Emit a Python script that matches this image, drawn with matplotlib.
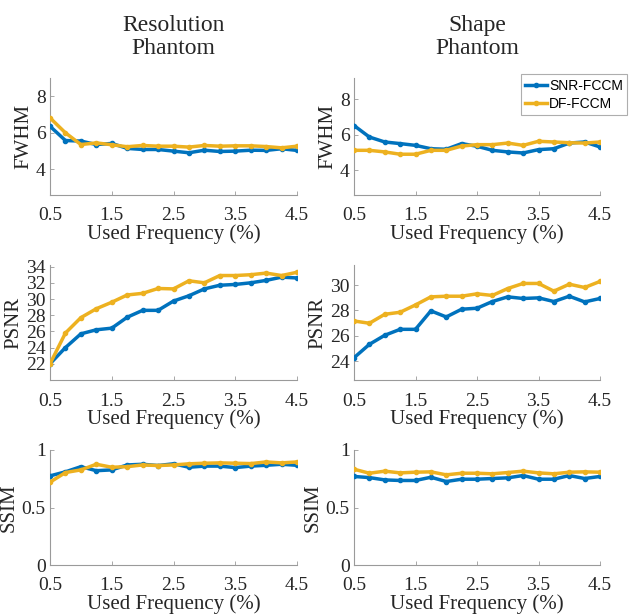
import matplotlib
matplotlib.use("Agg")
import matplotlib.pyplot as plt
import numpy as np

freq = [0.5, 0.75, 1.0, 1.25, 1.5, 1.75, 2.0, 2.25, 2.5, 2.75, 3.0, 3.25, 3.5, 3.75, 4.0, 4.25, 4.5]
xticks = [0.5, 1.5, 2.5, 3.5, 4.5]
xtick_labels = ["0.5", "1.5", "2.5", "3.5", "4.5"]
series_names = ["SNR-FCCM", "DF-FCCM"]
col_titles = ["Resolution\nPhantom", "Shape\nPhantom"]

res_fwhm_snr = [6.36, 5.58, 5.55, 5.36, 5.42, 5.15, 5.09, 5.09, 5.00, 4.91, 5.05, 4.98, 5.00, 5.05, 5.04, 5.13, 5.04]
res_fwhm_df = [6.82, 6.00, 5.36, 5.45, 5.35, 5.24, 5.31, 5.27, 5.27, 5.22, 5.31, 5.27, 5.29, 5.29, 5.25, 5.18, 5.27]
shp_fwhm_snr = [6.52, 5.87, 5.59, 5.50, 5.40, 5.21, 5.18, 5.50, 5.35, 5.12, 5.03, 4.97, 5.16, 5.21, 5.53, 5.59, 5.31]
shp_fwhm_df = [5.12, 5.12, 5.03, 4.90, 4.90, 5.12, 5.12, 5.36, 5.44, 5.44, 5.53, 5.40, 5.63, 5.59, 5.55, 5.53, 5.59]

res_psnr_snr = [22.0, 24.0, 25.7, 26.2, 26.4, 27.75, 28.6, 28.6, 29.75, 30.4, 31.25, 31.7, 31.8, 32.0, 32.3, 32.7, 32.6]
res_psnr_df = [22.0, 25.8, 27.7, 28.8, 29.6, 30.5, 30.7, 31.3, 31.25, 32.25, 32.0, 32.9, 32.9, 33.0, 33.2, 32.9, 33.3]
shp_psnr_snr = [24.26, 25.32, 26.04, 26.51, 26.51, 27.97, 27.49, 28.10, 28.18, 28.71, 29.08, 28.95, 29.0, 28.71, 29.13, 28.68, 28.95]
shp_psnr_df = [27.17, 26.99, 27.70, 27.86, 28.44, 29.08, 29.13, 29.13, 29.32, 29.19, 29.74, 30.14, 30.14, 29.53, 30.08, 29.82, 30.30]

res_ssim_snr = [0.775, 0.81, 0.855, 0.82, 0.827, 0.87, 0.876, 0.865, 0.88, 0.85, 0.86, 0.86, 0.847, 0.86, 0.867, 0.876, 0.867]
res_ssim_df = [0.72, 0.804, 0.827, 0.876, 0.85, 0.855, 0.87, 0.865, 0.87, 0.88, 0.885, 0.888, 0.885, 0.882, 0.896, 0.888, 0.896]
shp_ssim_snr = [0.77, 0.76, 0.74, 0.735, 0.735, 0.763, 0.726, 0.746, 0.746, 0.752, 0.758, 0.778, 0.746, 0.746, 0.778, 0.752, 0.77]
shp_ssim_df = [0.833, 0.798, 0.816, 0.801, 0.807, 0.81, 0.784, 0.798, 0.798, 0.793, 0.804, 0.816, 0.801, 0.793, 0.807, 0.81, 0.807]

W, H = 633, 616
fig = plt.figure(figsize=(W / 100, H / 100), dpi=100)
plt.rcParams['font.family'] = ['Liberation Serif', 'DejaVu Serif']

colors = ["#0072BD", "#EDB120"]
cols_px = [(50, 297), (354, 600)]
rows_px = [(78, 195), (265, 380), (450, 565)]
xpads = [9, 9, 9]

panels = [
    [(res_fwhm_snr, res_fwhm_df), (shp_fwhm_snr, shp_fwhm_df)],
    [(res_psnr_snr, res_psnr_df), (shp_psnr_snr, shp_psnr_df)],
    [(res_ssim_snr, res_ssim_df), (shp_ssim_snr, shp_ssim_df)],
]
ylabels = ["FWHM", "PSNR", "SSIM"]
ylims = [[(2.6, 9.0), (2.6, 9.2)], [(20.0, 34.2), (22.5, 31.6)], [(0, 1), (0, 1)]]
yticks = [[[4, 6, 8], [4, 6, 8]], [list(range(22, 35, 2)), [24, 26, 28, 30]], [[0, 0.5, 1], [0, 0.5, 1]]]
ytlabels = [[["4", "6", "8"], ["4", "6", "8"]],
            [[str(v) for v in range(22, 35, 2)], ["24", "26", "28", "30"]],
            [["0", "0.5", "1"], ["0", "0.5", "1"]]]

for r, (top, bot) in enumerate(rows_px):
    for c, (x0, x1) in enumerate(cols_px):
        ax = fig.add_axes([x0 / W, (H - bot) / H, (x1 - x0) / W, (bot - top) / H])
        for s, vals in enumerate(panels[r][c]):
            ax.plot(freq, vals, color=colors[s], lw=2.5, marker='o', ms=3,
                    label=series_names[s], zorder=3 + s)
        ax.set_xlim(0.5, 4.5)
        ax.set_ylim(*ylims[r][c])
        ax.set_xticks(xticks)
        ax.set_xticklabels(xtick_labels)
        ax.set_yticks(yticks[r][c])
        ax.set_yticklabels(ytlabels[r][c])
        for sp in ["top", "right"]:
            ax.spines[sp].set_visible(False)
        for sp in ["left", "bottom"]:
            ax.spines[sp].set_color("#9a9a9a")
            ax.spines[sp].set_linewidth(0.8)
        ax.tick_params(direction='in', length=3, width=0.6, color="#9a9a9a",
                       labelsize=14, labelcolor="#262626")
        ax.tick_params(axis='x', pad=xpads[r])
        ax.tick_params(axis='y', pad=3)
        ax.set_ylabel(ylabels[r], fontsize=15, color="#262626", labelpad=2)
        ax.set_xlabel("Used Frequency (%)", fontsize=15, color="#262626", labelpad=0)
        if r == 0:
            ax.set_title(col_titles[c], fontsize=17, color="#262626", pad=17, linespacing=1.15)
        if r == 0 and c == 1:
            leg = ax.legend(loc='upper right', bbox_to_anchor=(1.11, 1.03),
                            prop={'family': 'Liberation Sans', 'size': 10},
                            frameon=True, fancybox=False, edgecolor="#9a9a9a",
                            handlelength=1.6, borderpad=0.3, labelspacing=0.3,
                            handletextpad=0.15, borderaxespad=0.0)
            leg.get_frame().set_linewidth(0.8)

fig.savefig("out.png", dpi=100)
